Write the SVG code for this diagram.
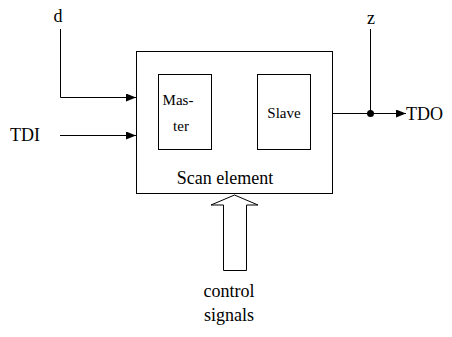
<svg xmlns="http://www.w3.org/2000/svg" width="452" height="337" viewBox="0 0 452 337" font-family="Liberation Serif">
<defs>
<style>
.ln{stroke:#000;stroke-width:1;fill:none}
.bx{stroke:#000;stroke-width:1;fill:#fff}
</style>
<marker id="ah" markerWidth="10" markerHeight="8" refX="10" refY="4" orient="auto" markerUnits="userSpaceOnUse">
<path d="M0,0 L10,4 L0,8 Z" fill="#000"/>
</marker>
</defs>
<rect width="452" height="337" fill="#fff"/>
<g id="scan-element">
<rect class="bx" x="136.5" y="51.5" width="196" height="142"/>
<text x="225" y="184" font-size="18" font-family="Liberation Serif" text-anchor="middle">Scan element</text>
</g>
<g id="master">
<rect class="bx" x="158.5" y="74.5" width="53" height="75"/>
<text x="178" y="105" font-size="15" font-family="Liberation Serif" text-anchor="middle">Mas-</text>
<text x="181" y="131" font-size="15" font-family="Liberation Serif" text-anchor="middle">ter</text>
</g>
<g id="slave">
<rect class="bx" x="257.5" y="74.5" width="53" height="75"/>
<text x="284" y="118" font-size="15" font-family="Liberation Serif" text-anchor="middle">Slave</text>
</g>
<g id="labels">
<text x="58" y="22" font-size="18" font-family="Liberation Serif" text-anchor="middle">d</text>
<text x="10" y="141" font-size="18" font-family="Liberation Serif">TDI</text>
<text x="371" y="24" font-size="18" font-family="Liberation Serif" text-anchor="middle">z</text>
<text x="406" y="120" font-size="18" font-family="Liberation Serif">TDO</text>
<text x="229" y="297" font-size="18" font-family="Liberation Serif" text-anchor="middle">control</text>
<text x="229" y="321" font-size="18" font-family="Liberation Serif" text-anchor="middle">signals</text>
</g>
<g id="connectors">
<polyline class="ln" points="60.5,29 60.5,97.5 136,97.5" marker-end="url(#ah)"/>
<line class="ln" x1="60" y1="135.5" x2="136" y2="135.5" marker-end="url(#ah)"/>
<line class="ln" x1="333" y1="113.5" x2="406" y2="113.5" marker-end="url(#ah)"/>
<line class="ln" x1="370.5" y1="29" x2="370.5" y2="113.5"/>
<circle cx="370.5" cy="113.5" r="3.5" fill="#000"/>
<polygon class="bx" points="234.5,195 258,205 246.5,205 246.5,270.5 223.5,270.5 223.5,205 211,205"/>
</g>
</svg>
